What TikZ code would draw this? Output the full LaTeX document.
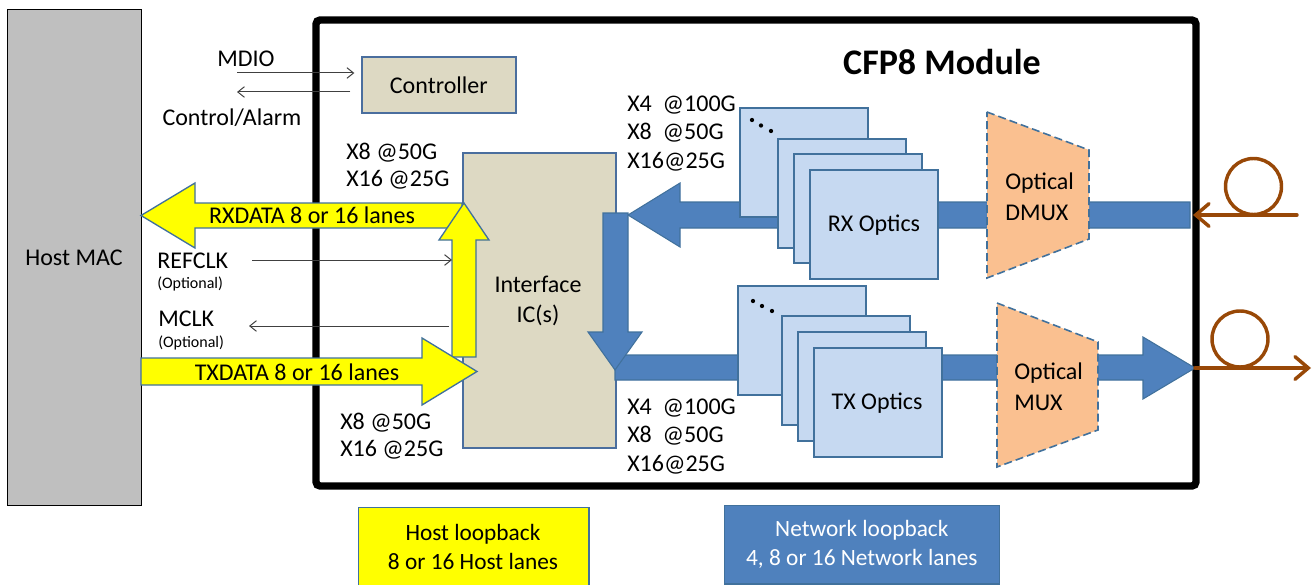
\documentclass[tikz,border=0pt]{standalone}
\usepackage{fontspec}
\setmainfont{Carlito}
\usetikzlibrary{arrows.meta}
\definecolor{hostgray}{HTML}{BFBFBF}
\definecolor{tan}{HTML}{DDD9C3}
\definecolor{bordblue}{HTML}{4A6E9E}
\definecolor{outblue}{HTML}{41719C}
\definecolor{fatblue}{HTML}{4F81BD}
\definecolor{optfill}{HTML}{C6D9F1}
\definecolor{muxfill}{HTML}{FAC090}
\definecolor{fiber}{HTML}{984807}
\definecolor{thinline}{HTML}{404040}
\definecolor{yel}{HTML}{FFFF00}
\tikzset{
  txt/.style={font=\fontsize{18}{21}\selectfont, inner sep=0pt},
  smalltxt/.style={font=\fontsize{12}{14}\selectfont, inner sep=0pt},
  tanbox/.style={draw=bordblue, fill=tan, line width=1.3pt, inner sep=0pt},
  optbox/.style={draw=outblue, fill=optfill, line width=1.4pt, inner sep=0pt},
  yarrow/.style={fill=yel, draw=outblue, line width=1pt},
  barrow/.style={fill=fatblue, draw=outblue, line width=0.8pt},
  muxshape/.style={fill=muxfill, draw=outblue, line width=1.2pt, dash pattern=on 6pt off 3pt},
  sig/.style={draw=thinline, line width=0.75pt, -{Straight Barb[length=5pt,width=8pt]}},
  fib/.style={draw=fiber, line width=2.6pt, line cap=round, -{Straight Barb[length=10pt,width=17pt,line cap=round]}},
  fibloop/.style={draw=fiber, line width=2.6pt},
  dots/.style={fill=black},
}
\begin{document}
\begin{tikzpicture}[x=0.75pt,y=-0.75pt]
\useasboundingbox (0,0) rectangle (1315,585);
% Host MAC
\node[draw=black, fill=hostgray, line width=1.1pt, inner sep=0pt,
  minimum width=100.5pt, minimum height=372pt, anchor=north west] (host) at (7,9) {};
\node[txt] (hosttxt) at (74,258) {Host MAC};
% CFP8 module frame
\draw[line width=5.5pt, rounded corners=3pt] (316,20) rectangle (1196,486);
\node[font=\fontsize{27}{30}\selectfont\bfseries, inner sep=0pt] (cfp) at (942,62) {CFP8 Module};
% Controller
\node[tanbox, minimum width=115.5pt, minimum height=42pt, anchor=north west] (ctrl) at (361,56) {};
\node[txt] at (ctrl.center) {Controller};
% Interface IC
\node[tanbox, minimum width=114.75pt, minimum height=221.25pt, anchor=north west] (ifc) at (462,152) {};
\node[txt, align=center] at (538,301) {Interface\\[1pt]IC(s)};
% signal arrows
\coordinate (mdioL) at (237,73);
\coordinate (ctlL) at (237,92);
\draw[sig, shorten >=5pt] (mdioL) -- (mdioL -| ctrl.west);
\draw[sig, shorten <=8pt] (ctlL -| ctrl.west) -- (ctlL);
\node[txt] (mdio) at (246,59) {MDIO};
\node[txt] (ctl) at (232,118) {Control/Alarm};
% yellow host arrows
\path[yarrow] (462,203) -- (195,203) -- (195,183) -- (141,215.5) -- (195,248) -- (195,228) -- (462,228) -- cycle;
\path[yarrow] (452,357) -- (452,240) -- (439,240) -- (464,203) -- (489,240) -- (476,240) -- (476,357) -- cycle;
\path[yarrow] (141,358) -- (422,358) -- (422,338) -- (477,371.5) -- (422,405) -- (422,385) -- (141,385) -- cycle;
\node[txt] (rxd) at (312,215) {RXDATA 8 or 16 lanes};
\node[txt] (txd) at (297,372) {TXDATA 8 or 16 lanes};
% clocks
\coordinate (refL) at (252,260);
\coordinate (refR) at (452,260);
\coordinate (mclkR) at (449,326);
\coordinate (mclkL) at (249,326);
\draw[sig] (refL) -- (refR);
\draw[sig] (mclkR) -- (mclkL);
\node[txt, anchor=west] (ref) at (157,261) {REFCLK};
\node[smalltxt, anchor=west] (refo) at (157,284) {(Optional)};
\node[txt, anchor=west] (mclk) at (158,319) {MCLK};
\node[smalltxt, anchor=west] (mclko) at (158,343) {(Optional)};
\node[txt, anchor=west] (h1) at (346,153) {X8 @50G};
\node[txt, anchor=west] (h2) at (346,180) {X16 @25G};
\node[txt, anchor=west] (h3) at (340,423) {X8 @50G};
\node[txt, anchor=west] (h4) at (340,450) {X16 @25G};
% blue network arrows
\path[barrow] (1190,202) -- (680,202) -- (680,183) -- (628,215) -- (680,247) -- (680,228) -- (1190,228) -- cycle;
\path[barrow] (615,355) -- (1143,355) -- (1143,337) -- (1195,368) -- (1143,399) -- (1143,380) -- (615,380) -- cycle;
\path[barrow] (603,213) -- (628,213) -- (628,332) -- (642,332) -- (615,370) -- (588,332) -- (603,332) -- cycle;
% RX optics stack
\node[optbox, minimum width=96pt, minimum height=81.75pt, anchor=north west] (rx0) at (739,107) {};
\fill[dots] (752,120) circle (1.6pt) (761,125.5) circle (1.6pt) (771,131) circle (1.6pt);
\node[optbox, minimum width=96pt, minimum height=81.75pt, anchor=north west] (rx1) at (777,138) {};
\node[optbox, minimum width=96pt, minimum height=81.75pt, anchor=north west] (rx2) at (793,153) {};
\node[optbox, minimum width=96pt, minimum height=81.75pt, anchor=north west] (rx3) at (809,169) {};
\node[txt] at (874,225) {RX Optics};
% TX optics stack
\node[optbox, minimum width=96pt, minimum height=81.75pt, anchor=north west] (tx0) at (737,285) {};
\fill[dots] (753,301) circle (1.6pt) (762,306) circle (1.6pt) (772,311) circle (1.6pt);
\node[optbox, minimum width=96pt, minimum height=81.75pt, anchor=north west] (tx1) at (781,315) {};
\node[optbox, minimum width=96pt, minimum height=81.75pt, anchor=north west] (tx2) at (797,331) {};
\node[optbox, minimum width=96pt, minimum height=81.75pt, anchor=north west] (tx3) at (813,347) {};
\node[txt] at (877,403) {TX Optics};
% rate labels
\node[txt, anchor=west] (r1) at (627,105) {X4\ \ @100G};
\node[txt, anchor=west] (r2) at (627,133) {X8\ \ @50G};
\node[txt, anchor=west] (r3) at (627,162) {X16@25G};
\node[txt, anchor=west] (t1) at (627,408) {X4\ \ @100G};
\node[txt, anchor=west] (t2) at (627,436) {X8\ \ @50G};
\node[txt, anchor=west] (t3) at (627,465) {X16@25G};
% DMUX / MUX
\path[muxshape] (987,112) -- (1089,150) -- (1089,239) -- (987,278) -- cycle;
\node[txt, align=left, anchor=west] (dmux) at (1005,197) {Optical\\[2pt]DMUX};
\path[muxshape] (997,303) -- (1098,342) -- (1098,430) -- (997,467) -- cycle;
\node[txt, align=left, anchor=west] (mux) at (1014,387) {Optical\\[2pt]MUX};
% fibers
\coordinate (fibRX) at (1297,215);
\coordinate (fibRXend) at (1193,215);
\draw[fibloop] (1253.5,186.5) circle (21pt);
\draw[fib] (fibRX) -- (fibRXend);
\coordinate (fibTX) at (1195,368);
\coordinate (fibTXend) at (1311,368);
\draw[fibloop] (1240,339) circle (21pt);
\draw[fib] (fibTX) -- (fibTXend);
% bottom legend boxes
\node[draw=outblue, fill=yel, line width=1pt, minimum width=173pt, minimum height=70pt, anchor=north west] (hl) at (357.5,507) {};
\node[txt, align=center, font=\fontsize{17.5}{22}\selectfont] at (473,547) {Host loopback\\8 or 16 Host lanes};
\node[draw=outblue, fill=fatblue, line width=1pt, minimum width=206.5pt, minimum height=59pt, anchor=north west] (nl) at (723.5,504.5) {};
\node[txt, align=center, text=white, font=\fontsize{17.5}{22}\selectfont] at (nl.center) {Network loopback\\4, 8 or 16 Network lanes};
\end{tikzpicture}
\end{document}
